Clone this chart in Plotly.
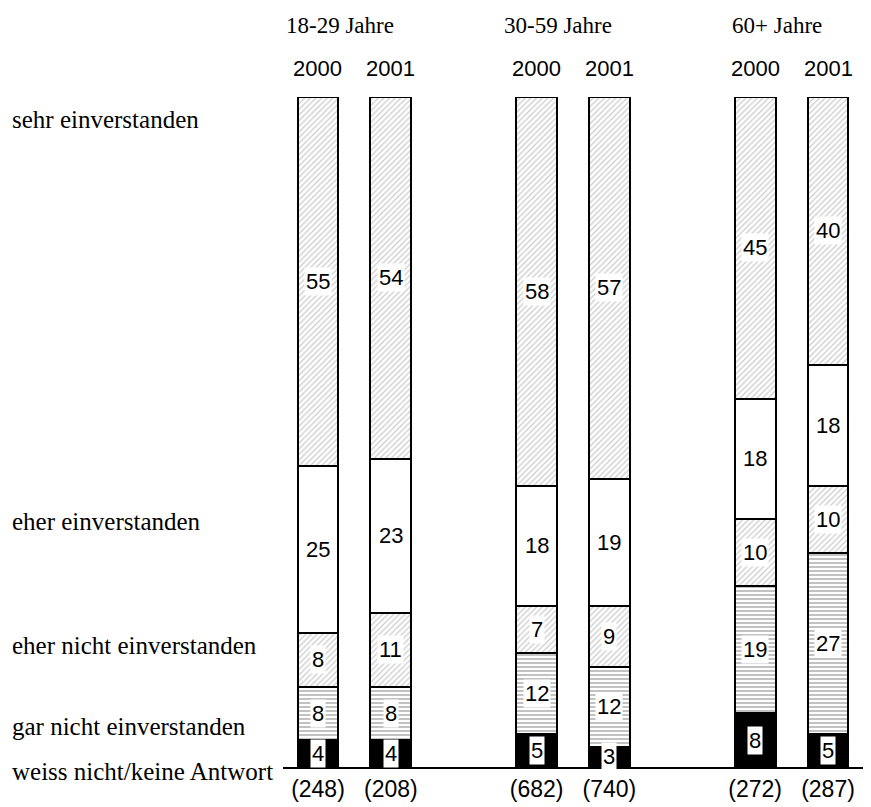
import plotly.graph_objects as go

# ---- data ----
groups = ["18-29 Jahre", "30-59 Jahre", "60+ Jahre"]
years = ["2000", "2001"]
n_labels = ["(248)", "(208)", "(682)", "(740)", "(272)", "(287)"]
categories = ["weiss nicht/keine Antwort", "gar nicht einverstanden",
              "eher nicht einverstanden", "eher einverstanden", "sehr einverstanden"]
weiss = [4, 4, 5, 3, 8, 5]
gar_nicht = [8, 8, 12, 12, 19, 27]
eher_nicht = [8, 11, 7, 9, 10, 10]
eher = [25, 23, 18, 19, 18, 18]
sehr = [55, 54, 58, 57, 45, 40]
label_y = [96.6, 36.7, 18.1, 6.0, -0.6]  # left label heights (in % units)

series = [weiss, gar_nicht, eher_nicht, eher, sehr]
xpos = [0, 1, 3, 4, 6, 7]

SANS = "Liberation Sans, Arial, sans-serif"
SERIF = "Liberation Serif"

styles = [
    dict(color="black"),
    dict(color="white", pattern=dict(shape="-", fgcolor="#858585", bgcolor="white", size=4, solidity=0.5)),
    dict(color="white", pattern=dict(shape="/", fgcolor="#a0a0a0", bgcolor="white", size=4, solidity=0.35)),
    dict(color="white"),
    dict(color="white", pattern=dict(shape="/", fgcolor="#a0a0a0", bgcolor="white", size=4, solidity=0.35)),
]

fig = go.Figure()
for cat, vals, st in zip(categories, series, styles):
    fig.add_trace(go.Bar(
        x=xpos, y=vals, name=cat, width=0.56,
        marker=dict(line=dict(color="black", width=2), **st),
        hoverinfo="skip", showlegend=False,
    ))

YMAX = 100.0
annotations = []
# value labels in white boxes
for i, x in enumerate(xpos):
    base = 0
    for vals in series:
        v = vals[i]
        annotations.append(dict(
            x=x, y=(base + v / 2) / YMAX, xref="x", yref="paper", yanchor="middle",
            text=str(v), showarrow=False,
            font=dict(family=SANS, size=22, color="black"),
            bgcolor="white", borderpad=1,
        ))
        base += v

# year labels
for i, x in enumerate(xpos):
    annotations.append(dict(
        x=x, y=104.2 / YMAX, xref="x", yref="paper", yanchor="middle",
        text=years[i % 2], showarrow=False,
        font=dict(family=SANS, size=22, color="black"),
    ))
# group headings
for g, name in enumerate(groups):
    annotations.append(dict(
        x=(xpos[2 * g] + xpos[2 * g + 1]) / 2 - 0.2, y=110.6 / YMAX, xref="x", yref="paper",
        yanchor="middle", text=name, showarrow=False,
        font=dict(family=SERIF, size=23, color="black"),
    ))
# left category labels
for cat, yv in zip(categories[::-1], label_y):
    annotations.append(dict(
        x=-0.464, y=yv / YMAX, xref="paper", yref="paper", xanchor="left", yanchor="middle",
        text=cat, showarrow=False, font=dict(family=SERIF, size=25, color="black"),
    ))

fig.update_layout(
    width=863, height=799, barmode="stack",
    margin=dict(l=275, r=0, t=89, b=40),
    plot_bgcolor="white", paper_bgcolor="white",
    annotations=annotations,
    xaxis=dict(range=[-0.48, 7.59], tickvals=xpos, ticktext=n_labels,
               showline=True, linecolor="black", linewidth=2, showgrid=False,
               zeroline=False, ticks="", tickfont=dict(family=SANS, size=23, color="black")),
    yaxis=dict(range=[0, YMAX], visible=False, showgrid=False, zeroline=False),
)

fig.write_html("out.html")
